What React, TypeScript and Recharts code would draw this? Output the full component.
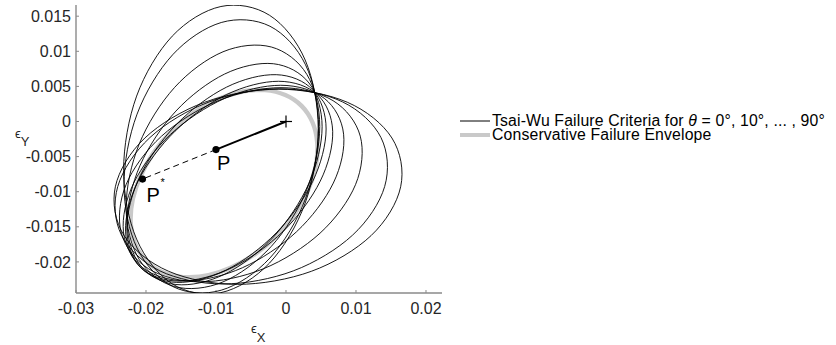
import React from 'react';
import { ScatterChart, Scatter, XAxis, YAxis, Legend } from 'recharts';

type Pt = [number, number];

// Tsai-Wu failure ellipses in strain space (theta = 0..90 deg)
const tsaiWu0: Pt[] = [
  [0.0046, -0.00103], [0.00274, 0.00876], [-0.00235, 0.01513], [-0.0093, 0.01638],
  [-0.01625, 0.01216], [-0.02134, 0.00362], [-0.0232, -0.00697], [-0.02134, -0.01676],
  [-0.01625, -0.02313], [-0.0093, -0.02438], [-0.00235, -0.02016], [0.00274, -0.01162],
];
const tsaiWu10: Pt[] = [
  [0.00466, -0.0009], [0.00279, 0.00808], [-0.00229, 0.01357], [-0.00925, 0.0141],
  [-0.01619, 0.00951], [-0.02128, 0.00104], [-0.02314, -0.00902], [-0.02128, -0.01802],
  [-0.01619, -0.0235], [-0.00925, -0.02403], [-0.00229, -0.01944], [0.00279, -0.01098],
];
const tsaiWu20: Pt[] = [
  [0.00482, -0.00071], [0.00297, 0.00672], [-0.00209, 0.01061], [-0.009, 0.00993],
  [-0.01591, 0.00486], [-0.02098, -0.00323], [-0.02284, -0.01221], [-0.02098, -0.01963],
  [-0.01591, -0.02352], [-0.009, -0.02285], [-0.00209, -0.01778], [0.00297, -0.00967],
];
const tsaiWu30: Pt[] = [
  [0.00516, -0.00075], [0.00329, 0.00548], [-0.00181, 0.00823], [-0.00877, 0.00676],
  [-0.01573, 0.00148], [-0.02083, -0.00622], [-0.02269, -0.01424], [-0.02083, -0.02048],
  [-0.01573, -0.02322], [-0.00877, -0.02176], [-0.00181, -0.01647], [0.00329, -0.00878],
];
const tsaiWu40: Pt[] = [
  [0.00573, -0.00107], [0.00382, 0.0045], [-0.00139, 0.00667], [-0.0085, 0.00489],
  [-0.01562, -0.00038], [-0.02083, -0.00773], [-0.02274, -0.01518], [-0.02083, -0.02074],
  [-0.01562, -0.02292], [-0.0085, -0.02114], [-0.00139, -0.01586], [0.00382, -0.00852],
];
const tsaiWu50: Pt[] = [
  [-0.00107, 0.00573], [0.0045, 0.00382], [0.00667, -0.00139], [0.00489, -0.0085],
  [-0.00038, -0.01562], [-0.00773, -0.02083], [-0.01518, -0.02274], [-0.02074, -0.02083],
  [-0.02292, -0.01562], [-0.02114, -0.0085], [-0.01586, -0.00139], [-0.00852, 0.00382],
];
const tsaiWu60: Pt[] = [
  [-0.00075, 0.00516], [0.00548, 0.00329], [0.00823, -0.00181], [0.00676, -0.00877],
  [0.00148, -0.01573], [-0.00622, -0.02083], [-0.01424, -0.02269], [-0.02048, -0.02083],
  [-0.02322, -0.01573], [-0.02176, -0.00877], [-0.01647, -0.00181], [-0.00878, 0.00329],
];
const tsaiWu70: Pt[] = [
  [-0.00071, 0.00482], [0.00672, 0.00297], [0.01061, -0.00209], [0.00993, -0.009],
  [0.00486, -0.01591], [-0.00323, -0.02098], [-0.01221, -0.02284], [-0.01963, -0.02098],
  [-0.02352, -0.01591], [-0.02285, -0.009], [-0.01778, -0.00209], [-0.00967, 0.00297],
];
const tsaiWu80: Pt[] = [
  [-0.0009, 0.00466], [0.00808, 0.00279], [0.01357, -0.00229], [0.0141, -0.00925],
  [0.00951, -0.01619], [0.00104, -0.02128], [-0.00902, -0.02314], [-0.01802, -0.02128],
  [-0.0235, -0.01619], [-0.02403, -0.00925], [-0.01944, -0.00229], [-0.01098, 0.00279],
];
const tsaiWu90: Pt[] = [
  [-0.00103, 0.0046], [0.00876, 0.00274], [0.01513, -0.00235], [0.01638, -0.0093],
  [0.01216, -0.01625], [0.00362, -0.02134], [-0.00697, -0.0232], [-0.01676, -0.02134],
  [-0.02313, -0.01625], [-0.02438, -0.0093], [-0.02016, -0.00235], [-0.01162, 0.00274],
];

const tsaiWuCurves = [tsaiWu0, tsaiWu10, tsaiWu20, tsaiWu30, tsaiWu40, tsaiWu50, tsaiWu60, tsaiWu70, tsaiWu80, tsaiWu90];

// conservative envelope (grey)
const envelope: Pt[] = [
  [0.00222, 0.00222], [-0.003, 0.00447], [-0.00978, 0.00315], [-0.01632, -0.00138],
  [-0.02085, -0.00792], [-0.02217, -0.0147], [-0.01992, -0.01992], [-0.0147, -0.02217],
  [-0.00792, -0.02085], [-0.00138, -0.01632], [0.00315, -0.00978], [0.00447, -0.003],
];

const origin: Pt[] = [[0, 0]];
const pointP: Pt[] = [[-0.01, -0.004]];
const pointPStar: Pt[] = [[-0.0205, -0.0082]];

const xTicks = [-0.03, -0.02, -0.01, 0, 0.01, 0.02];
const yTicks = [-0.02, -0.015, -0.01, -0.005, 0, 0.005, 0.01, 0.015];

const FONT = '"Liberation Sans", Arial, Helvetica, sans-serif';
const AXIS_GREY = '#8a8a8a';
const ENVELOPE_GREY = '#c9c9c9';

const toRows = (pts: Pt[]) => pts.map(([x, y]) => ({ x, y }));

// closed Catmull-Rom curve, so each ellipse goes smoothly through its points
const closedSpline = (context: any) => {
  let pts: number[][] = [];
  return {
    areaStart() {},
    areaEnd() {},
    lineStart() {
      pts = [];
    },
    point(x: number, y: number) {
      pts.push([+x, +y]);
    },
    lineEnd() {
      const n = pts.length;
      if (n < 3) return;
      context.moveTo(pts[0][0], pts[0][1]);
      for (let i = 0; i < n; i++) {
        const p0 = pts[(i - 1 + n) % n];
        const p1 = pts[i];
        const p2 = pts[(i + 1) % n];
        const p3 = pts[(i + 2) % n];
        context.bezierCurveTo(
          p1[0] + (p2[0] - p0[0]) / 6,
          p1[1] + (p2[1] - p0[1]) / 6,
          p2[0] - (p3[0] - p1[0]) / 6,
          p2[1] - (p3[1] - p1[1]) / 6,
          p2[0],
          p2[1]
        );
      }
      context.closePath();
    },
  };
};

const NoDot = () => <g />;

const PlusMark = (props: any) => {
  const { cx, cy } = props;
  return (
    <g stroke="#000" strokeWidth={1.2}>
      <line x1={cx - 6} y1={cy} x2={cx + 6} y2={cy} />
      <line x1={cx} y1={cy - 6} x2={cx} y2={cy + 6} />
    </g>
  );
};

const PDot = (props: any) => {
  const { cx, cy } = props;
  return (
    <g>
      <circle cx={cx} cy={cy} r={3.6} fill="#000" />
      <text x={cx + 1} y={cy + 20} fontSize={20} fontFamily={FONT} fill="#000">P</text>
    </g>
  );
};

const PStarDot = (props: any) => {
  const { cx, cy } = props;
  return (
    <g>
      <circle cx={cx} cy={cy} r={3.6} fill="#000" />
      <text x={cx + 4} y={cy + 23} fontSize={20} fontFamily={FONT} fill="#000">P</text>
      <text x={cx + 18} y={cy + 7} fontSize={11} fontFamily={FONT} fill="#000">*</text>
    </g>
  );
};

const XLabel = () => (
  <text x={251} y={333} fontSize={13} fontFamily={FONT} fill="#262626">
    ϵ<tspan dy={9}>X</tspan>
  </text>
);

const YLabel = () => (
  <text x={15} y={138} fontSize={13} fontFamily={FONT} fill="#262626">
    ϵ<tspan dy={8}>Y</tspan>
  </text>
);

const LegendBox = () => (
  <svg width={380} height={36} style={{ overflow: 'visible' }}>
    <line x1={4} y1={11} x2={34} y2={11} stroke="#000" strokeWidth={1} />
    <text x={36} y={16.2} fontSize={15.8} fontFamily={FONT} fill="#000" letterSpacing={0.15}>
      Tsai-Wu Failure Criteria for <tspan fontStyle="italic">θ</tspan> = 0°, 10°, ... , 90°
    </text>
    <line x1={4} y1={25} x2={34} y2={25} stroke={ENVELOPE_GREY} strokeWidth={4} />
    <text x={36} y={30.2} fontSize={15.8} fontFamily={FONT} fill="#000" letterSpacing={0.15}>
      Conservative Failure Envelope
    </text>
  </svg>
);

export default function App() {
  return (
    <div style={{ position: 'absolute', left: 0, top: 0, width: 836, height: 345, background: '#fff' }}>
      <ScatterChart width={836} height={345} margin={{ top: 5, right: 394, bottom: 12, left: 16 }}>
        <XAxis
          type="number"
          dataKey="x"
          domain={[-0.03, 0.022286]}
          allowDataOverflow
          ticks={xTicks}
          interval={0}
          tickFormatter={(v: number) => String(v)}
          tickSize={-3}
          tickMargin={13}
          height={40}
          axisLine={{ stroke: AXIS_GREY, strokeWidth: 1.4 }}
          tickLine={{ stroke: AXIS_GREY, strokeWidth: 1 }}
          tick={{ fill: '#262626', fontSize: 16, fontFamily: FONT }}
          label={<XLabel />}
        />
        <YAxis
          type="number"
          dataKey="y"
          domain={[-0.02443, 0.016595]}
          allowDataOverflow
          ticks={yTicks}
          interval={0}
          tickFormatter={(v: number) => String(v)}
          tickSize={-3}
          tickMargin={8}
          width={60}
          axisLine={{ stroke: AXIS_GREY, strokeWidth: 1.4 }}
          tickLine={{ stroke: AXIS_GREY, strokeWidth: 1 }}
          tick={{ fill: '#262626', fontSize: 16, fontFamily: FONT }}
          label={<YLabel />}
        />
        <Legend
          layout="horizontal"
          align="center"
          verticalAlign="middle"
          content={<LegendBox />}
          wrapperStyle={{ position: 'absolute', left: 456, top: 110, width: 380, height: 36 }}
        />
        <Scatter
          data={toRows(envelope)}
          line={{ stroke: ENVELOPE_GREY, strokeWidth: 4.5 }}
          lineJointType={closedSpline as any}
          shape={<NoDot />}
          fill={ENVELOPE_GREY}
          isAnimationActive={false}
        />
        {tsaiWuCurves.map((pts, i) => (
          <Scatter
            key={`tw-${i}`}
            data={toRows(pts)}
            line={{ stroke: '#000', strokeWidth: 0.9 }}
            lineJointType={closedSpline as any}
            shape={<NoDot />}
            fill="#000"
            isAnimationActive={false}
          />
        ))}
        <Scatter
          data={toRows([...origin, ...pointP])}
          line={{ stroke: '#000', strokeWidth: 2 }}
          shape={<NoDot />}
          fill="#000"
          isAnimationActive={false}
        />
        <Scatter
          data={toRows([...pointP, ...pointPStar])}
          line={{ stroke: '#000', strokeWidth: 1, strokeDasharray: '6 4' }}
          shape={<NoDot />}
          fill="#000"
          isAnimationActive={false}
        />
        <Scatter data={toRows(origin)} shape={<PlusMark />} fill="#000" isAnimationActive={false} />
        <Scatter data={toRows(pointP)} shape={<PDot />} fill="#000" isAnimationActive={false} />
        <Scatter data={toRows(pointPStar)} shape={<PStarDot />} fill="#000" isAnimationActive={false} />
      </ScatterChart>
    </div>
  );
}
